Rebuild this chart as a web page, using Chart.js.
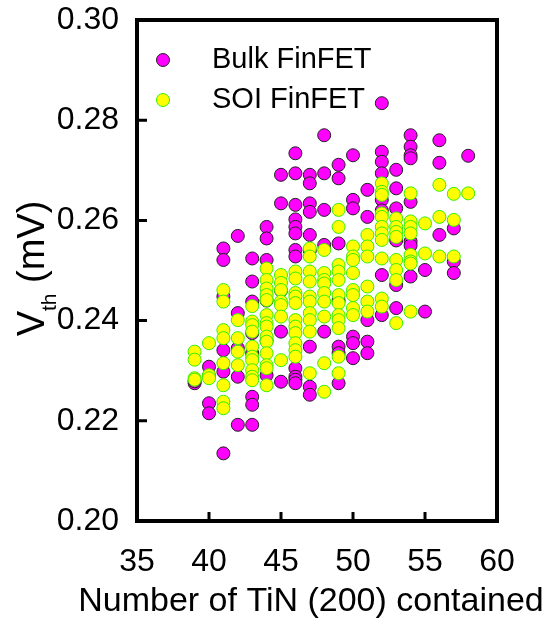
<!DOCTYPE html>
<html>
<head>
<meta charset="utf-8">
<script src="https://cdn.jsdelivr.net/npm/chart.js@4.4.0/dist/chart.umd.min.js"></script>
<style>
  body { margin: 0; background: #fff; }
  canvas { display: block; }
</style>
</head>
<body>
<canvas id="chart" width="559" height="621"></canvas>
<script>
// number of TiN (200) grains, one column of points per count
const tinCounts = [39, 40, 41, 42, 43, 44, 45, 46, 47, 48, 49, 50, 51, 52, 53, 54, 55, 56, 57, 58];

const bulkVth = [
    [0.2275, 0.2279],
    [0.2308, 0.2290, 0.2235, 0.2215],
    [0.2544, 0.2521, 0.2448, 0.2341, 0.2298, 0.2135],
    [0.2569, 0.2415, 0.2345, 0.2288, 0.2192],
    [0.2524, 0.2478, 0.2438, 0.2375, 0.2335, 0.2248, 0.2232, 0.2192],
    [0.2587, 0.2564, 0.2521, 0.2440, 0.2360, 0.2291],
    [0.2691, 0.2634, 0.2460, 0.2378, 0.2278],
    [0.2734, 0.2694, 0.2631, 0.2602, 0.2587, 0.2574, 0.2541, 0.2528, 0.2305, 0.2288, 0.2282, 0.2275],
    [0.2691, 0.2674, 0.2634, 0.2617, 0.2571, 0.2540, 0.2348, 0.2268, 0.2252],
    [0.2770, 0.2694, 0.2621, 0.2551, 0.2378],
    [0.2711, 0.2684, 0.2554, 0.2440, 0.2348, 0.2335, 0.2275],
    [0.2730, 0.2641, 0.2624, 0.2368, 0.2355, 0.2325],
    [0.2661, 0.2607, 0.2401, 0.2358, 0.2335],
    [0.2834, 0.2737, 0.2717, 0.2694, 0.2641, 0.2620, 0.2491, 0.2411],
    [0.2701, 0.2664, 0.2624, 0.2560, 0.2471, 0.2425],
    [0.2770, 0.2747, 0.2730, 0.2724, 0.2637, 0.2558, 0.2550, 0.2488],
    [0.2501, 0.2418],
    [0.2760, 0.2715, 0.2571],
    [0.2584, 0.2518, 0.2495],
    [0.2729]
];

const soiVth = [
    [0.2338, 0.2322, 0.2285, 0.2282],
    [0.2355, 0.2291, 0.2285],
    [0.2461, 0.2438, 0.2381, 0.2365, 0.2315, 0.2271, 0.2238, 0.2225],
    [0.2401, 0.2365, 0.2338, 0.2311],
    [0.2429, 0.2398, 0.2391, 0.2378, 0.2348, 0.2328, 0.2321, 0.2301, 0.2288, 0.2281],
    [0.2504, 0.2481, 0.2464, 0.2451, 0.2441, 0.2411, 0.2395, 0.2388, 0.2368, 0.2358, 0.2335, 0.2311, 0.2305, 0.2271],
    [0.2491, 0.2475, 0.2461, 0.2438, 0.2431, 0.2408, 0.2321],
    [0.2498, 0.2484, 0.2455, 0.2448, 0.2435, 0.2401, 0.2388, 0.2375, 0.2355, 0.2341, 0.2328],
    [0.2544, 0.2528, 0.2498, 0.2478, 0.2448, 0.2438, 0.2415, 0.2401, 0.2378, 0.2295],
    [0.2541, 0.2495, 0.2481, 0.2474, 0.2455, 0.2438, 0.2408, 0.2315, 0.2258],
    [0.2621, 0.2587, 0.2511, 0.2498, 0.2481, 0.2451, 0.2435, 0.2411, 0.2401, 0.2385, 0.2328, 0.2295],
    [0.2548, 0.2528, 0.2521, 0.2495, 0.2461, 0.2451, 0.2425, 0.2411],
    [0.2571, 0.2548, 0.2528, 0.2468, 0.2438, 0.2418],
    [0.2674, 0.2657, 0.2651, 0.2614, 0.2607, 0.2587, 0.2574, 0.2561, 0.2524, 0.2444, 0.2428],
    [0.2604, 0.2587, 0.2577, 0.2567, 0.2521, 0.2501, 0.2481, 0.2395],
    [0.2654, 0.2598, 0.2587, 0.2574, 0.2531, 0.2518, 0.2514, 0.2418],
    [0.2594, 0.2534],
    [0.2671, 0.2607, 0.2528],
    [0.2653, 0.2601, 0.2528],
    [0.2654]
];

const xTicks = [35, 40, 45, 50, 55, 60];
const yTicks = [0.20, 0.22, 0.24, 0.26, 0.28, 0.30];
const seriesNames = ['Bulk FinFET', 'SOI FinFET'];
const xTitle = 'Number of TiN (200) contained';

const FONT = "'Liberation Sans', Arial, sans-serif";
const BULK_FILL = '#ff00ff', BULK_EDGE = '#222222';
const SOI_FILL = '#ffff00', SOI_EDGE = '#33ee00';

function toPoints(columns) {
    return tinCounts.flatMap((n, i) => columns[i].map(v => ({x: n, y: v})));
}

// box frame, inward ticks, legend and the axis titles
const decorPlugin = {
    id: 'decor',
    afterDatasetsDraw(chart) {
        const {ctx, chartArea: a, scales: {x, y}} = chart;
        ctx.save();
        ctx.strokeStyle = '#000';
        ctx.lineWidth = 3;
        ctx.beginPath();
        for (const v of xTicks) {
            const px = x.getPixelForValue(v);
            ctx.moveTo(px, a.bottom);
            ctx.lineTo(px, a.bottom - 9);
        }
        for (const v of yTicks) {
            const py = y.getPixelForValue(v);
            ctx.moveTo(a.left, py);
            ctx.lineTo(a.left + 10, py);
        }
        ctx.stroke();
        ctx.lineWidth = 4;
        ctx.strokeRect(a.left, a.top, a.right - a.left, a.bottom - a.top);

        // legend
        const rows = [[BULK_FILL, BULK_EDGE, 60], [SOI_FILL, SOI_EDGE, 100]];
        ctx.font = '29px ' + FONT;
        ctx.textBaseline = 'middle';
        ctx.textAlign = 'left';
        rows.forEach((r, i) => {
            ctx.beginPath();
            ctx.arc(163, r[2], 6.5, 0, Math.PI * 2);
            ctx.fillStyle = r[0];
            ctx.fill();
            ctx.lineWidth = 1;
            ctx.strokeStyle = r[1];
            ctx.stroke();
            ctx.fillStyle = '#000';
            ctx.fillText(seriesNames[i], 212, r[2]);
        });

        // x title
        ctx.font = '34px ' + FONT;
        ctx.textAlign = 'center';
        ctx.fillText(xTitle, 311, 602);

        // y title: V_th (mV)
        const big = '38px ' + FONT, small = '21px ' + FONT;
        ctx.textAlign = 'left';
        ctx.textBaseline = 'alphabetic';
        ctx.font = big;
        const wV = ctx.measureText('V').width;
        const wRest = ctx.measureText(' (mV)').width;
        ctx.font = small;
        const wSub = ctx.measureText('th').width;
        const total = wV + wSub + wRest;
        ctx.translate(44, (a.top + a.bottom) / 2 - 2);
        ctx.rotate(-Math.PI / 2);
        let pos = -total / 2;
        ctx.font = big;
        ctx.fillText('V', pos, 0);
        pos += wV;
        ctx.font = small;
        ctx.fillText('th', pos, 12);
        pos += wSub;
        ctx.font = big;
        ctx.fillText(' (mV)', pos, 0);
        ctx.restore();
    }
};

Chart.defaults.font.family = FONT;
Chart.defaults.color = '#000';

new Chart(document.getElementById('chart'), {
    type: 'scatter',
    data: {
        datasets: [
            {
                label: seriesNames[0],
                data: toPoints(bulkVth),
                backgroundColor: BULK_FILL,
                borderColor: BULK_EDGE,
                borderWidth: 1,
                pointRadius: 6.5,
                order: 2
            },
            {
                label: seriesNames[1],
                data: toPoints(soiVth),
                backgroundColor: SOI_FILL,
                borderColor: SOI_EDGE,
                borderWidth: 1,
                pointRadius: 6.5,
                order: 1
            }
        ]
    },
    options: {
        responsive: false,
        animation: false,
        layout: {padding: {left: 0, top: 20, right: 62, bottom: 0}},
        plugins: {
            legend: {display: false},
            tooltip: {enabled: false}
        },
        scales: {
            x: {
                type: 'linear',
                min: 35,
                max: 60,
                afterBuildTicks: s => { s.ticks = xTicks.map(v => ({value: v})); },
                afterFit: s => {
                    s.height = 100;
                    s.paddingLeft = 0;
                    s.paddingRight = 0;
                },
                ticks: {font: {size: 32}, padding: 22, maxRotation: 0},
                grid: {display: false, drawTicks: false},
                border: {display: false}
            },
            y: {
                type: 'linear',
                min: 0.20,
                max: 0.30,
                afterBuildTicks: s => { s.ticks = yTicks.map(v => ({value: v})); },
                afterFit: s => {
                    s.width = 137;
                    s.paddingTop = 0;
                    s.paddingBottom = 0;
                },
                ticks: {font: {size: 32}, padding: 18, callback: v => v.toFixed(2)},
                grid: {display: false, drawTicks: false},
                border: {display: false}
            }
        }
    },
    plugins: [decorPlugin]
});
</script>
</body>
</html>
